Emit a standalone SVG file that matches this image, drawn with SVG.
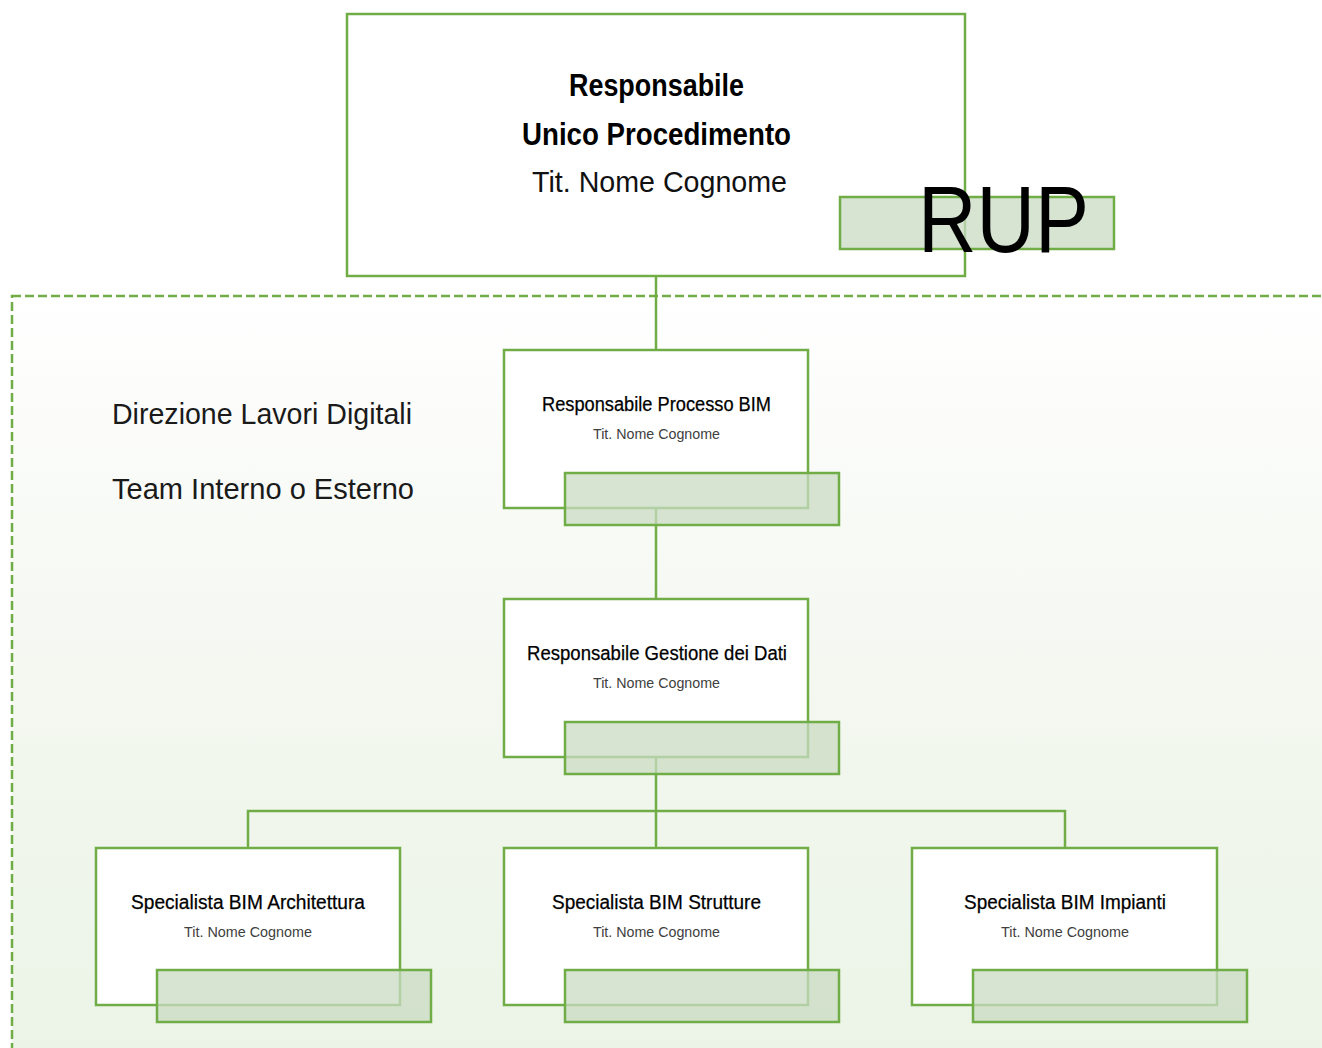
<svg xmlns="http://www.w3.org/2000/svg" width="1322" height="1048" viewBox="0 0 1322 1048">
<style>
  .box { fill: #ffffff; stroke: #70ad47; stroke-width: 2.5; }
  .tag { fill: #cadbc3; fill-opacity: 0.75; stroke: #70ad47; stroke-width: 2.5; }
  .conn { fill: none; stroke: #70ad47; stroke-width: 2.5; }
  .title { font-family: "Liberation Sans", Arial, sans-serif; font-size: 20px; fill: #000000; stroke: #000000; stroke-width: 0.25; }
  .sub { font-family: "Liberation Sans", Arial, sans-serif; font-size: 14.5px; fill: #404040; }
  .big { font-family: "Liberation Sans", Arial, sans-serif; font-size: 31px; font-weight: bold; fill: #000000; }
  .bigsub { font-family: "Liberation Sans", Arial, sans-serif; font-size: 30px; fill: #111111; }
  .side { font-family: "Liberation Sans", Arial, sans-serif; font-size: 29px; fill: #1a1a1a; }
</style>
<defs>
  <linearGradient id="bg" x1="0" y1="296" x2="0" y2="1048" gradientUnits="userSpaceOnUse">
    <stop offset="0" stop-color="#ffffff"/>
    <stop offset="0.3" stop-color="#f8faf6"/>
    <stop offset="0.7" stop-color="#f0f6ec"/>
    <stop offset="1" stop-color="#ecf4e7"/>
  </linearGradient>
</defs>
<rect x="0" y="0" width="1322" height="1048" fill="#ffffff"/>
<g id="team-area">
  <rect x="12" y="296" width="1340" height="780" fill="url(#bg)" stroke="#70ad47" stroke-width="2.5" stroke-dasharray="9 4"/>
  <text class="side" x="112" y="424" textLength="300" lengthAdjust="spacingAndGlyphs">Direzione Lavori Digitali</text>
  <text class="side" x="112" y="499" textLength="302" lengthAdjust="spacingAndGlyphs">Team Interno o Esterno</text>
</g>
<g id="connectors">
  <line class="conn" x1="656" y1="276" x2="656" y2="350"/>
  <line class="conn" x1="656" y1="508" x2="656" y2="599"/>
  <line class="conn" x1="656" y1="757" x2="656" y2="848"/>
  <polyline class="conn" points="248,848 248,811 1065,811 1065,848"/>
</g>
<g id="rup">
  <rect class="box" x="347" y="14" width="618" height="262" stroke-width="2.25"/>
  <text class="big" x="569" y="96" textLength="175" lengthAdjust="spacingAndGlyphs">Responsabile</text>
  <text class="big" x="522" y="145" textLength="269" lengthAdjust="spacingAndGlyphs">Unico Procedimento</text>
  <text class="bigsub" x="532" y="192" textLength="255" lengthAdjust="spacingAndGlyphs">Tit. Nome Cognome</text>
  <rect class="tag" x="840" y="197" width="274" height="52"/>
  <text x="918" y="252" font-family="Liberation Sans, Arial, sans-serif" font-size="95" fill="#000000" textLength="171" lengthAdjust="spacingAndGlyphs">RUP</text>
</g>
<g id="resp-processo-bim">
  <rect class="box" x="504" y="350" width="304" height="158"/>
  <text class="title" x="542" y="411" textLength="229" lengthAdjust="spacingAndGlyphs">Responsabile Processo BIM</text>
  <text class="sub" x="593" y="439" textLength="127" lengthAdjust="spacingAndGlyphs">Tit. Nome Cognome</text>
  <rect class="tag" x="565" y="473" width="274" height="52"/>
</g>
<g id="resp-gestione-dati">
  <rect class="box" x="504" y="599" width="304" height="158"/>
  <text class="title" x="527" y="660" textLength="260" lengthAdjust="spacingAndGlyphs">Responsabile Gestione dei Dati</text>
  <text class="sub" x="593" y="688" textLength="127" lengthAdjust="spacingAndGlyphs">Tit. Nome Cognome</text>
  <rect class="tag" x="565" y="722" width="274" height="52"/>
</g>
<g id="spec-architettura">
  <rect class="box" x="96" y="848" width="304" height="157"/>
  <text class="title" x="131" y="909" textLength="234" lengthAdjust="spacingAndGlyphs">Specialista BIM Architettura</text>
  <text class="sub" x="184" y="937" textLength="128" lengthAdjust="spacingAndGlyphs">Tit. Nome Cognome</text>
  <rect class="tag" x="157" y="970" width="274" height="52"/>
</g>
<g id="spec-strutture">
  <rect class="box" x="504" y="848" width="304" height="157"/>
  <text class="title" x="552" y="909" textLength="209" lengthAdjust="spacingAndGlyphs">Specialista BIM Strutture</text>
  <text class="sub" x="593" y="937" textLength="127" lengthAdjust="spacingAndGlyphs">Tit. Nome Cognome</text>
  <rect class="tag" x="565" y="970" width="274" height="52"/>
</g>
<g id="spec-impianti">
  <rect class="box" x="912" y="848" width="305" height="157"/>
  <text class="title" x="964" y="909" textLength="202" lengthAdjust="spacingAndGlyphs">Specialista BIM Impianti</text>
  <text class="sub" x="1001" y="937" textLength="128" lengthAdjust="spacingAndGlyphs">Tit. Nome Cognome</text>
  <rect class="tag" x="973" y="970" width="274" height="52"/>
</g>
</svg>
